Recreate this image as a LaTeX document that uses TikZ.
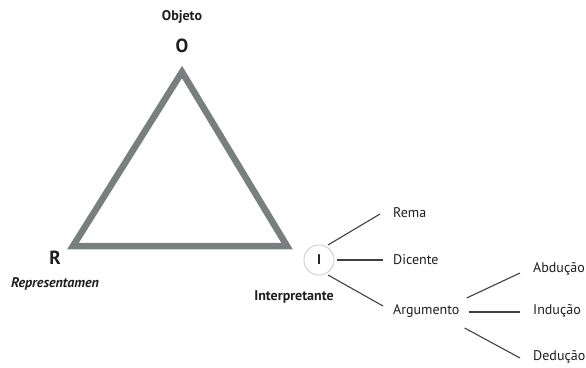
\documentclass[tikz,border=0pt]{standalone}
\usepackage{fontspec}
\setmainfont{PT Sans}
\usetikzlibrary{calc}
\definecolor{tri}{HTML}{787F7F}
\definecolor{txt}{HTML}{1E1E1E}
\definecolor{ring}{HTML}{D4D4D4}
\begin{document}
\begin{tikzpicture}[x=1pt,y=-1pt,
  lbl/.style={inner sep=0pt,text=txt,font=\fontsize{14}{16}\selectfont},
  blbl/.style={inner sep=0pt,text=txt,font=\fontsize{14}{16}\selectfont\bfseries},
  big/.style={inner sep=0pt,text=txt,font=\fontsize{19}{22}\selectfont\bfseries},
  branch/.style={draw=txt!85,line width=1.1pt},
  vert/.style={inner sep=0pt,minimum size=0pt}]
\useasboundingbox (0,0) rectangle (586,367);
% triangle vertices
\node[vert] (vo) at (182,72) {};
\node[vert] (vr) at (73,246) {};
\node[vert] (vi) at (287,246) {};
\draw[tri,line width=6.5pt,line join=miter] (vo.center) -- (vi.center) -- (vr.center) -- cycle;
% labels
\node[blbl] (objeto) at (182,17) {Objeto};
\node[big] (O) at (182,46) {O};
\node[big] (R) at (55,258) {R};
\node[blbl,font=\fontsize{14}{16}\selectfont\bfseries\itshape] (rep) at (55,284) {Representamen};
\node[circle,draw=ring,fill=white,line width=1pt,minimum size=30pt,inner sep=0pt,text=txt,font=\fontsize{14}{16}\selectfont\bfseries] (I) at (319,260) {I};
\node[blbl] (interp) at (294,297) {Interpretante};
% first level
\node[lbl,anchor=west] (rema) at (393,213) {Rema};
\node[lbl,anchor=west] (dic) at (393,260) {Dicente};
\node[lbl,anchor=west] (arg) at (393,311) {Argumento};
\draw[branch] ($(I)+(9,-15)$) -- ($(rema.west)+(-13,1)$);
\draw[branch] ($(I)+(18,0)$) -- ($(dic.west)+(-10,0)$);
\draw[branch] ($(I)+(9,15)$) -- ($(arg.west)+(-10,-5)$);
% second level
\node[lbl,anchor=west] (abd) at (533,269) {Abdução};
\node[lbl,anchor=west] (ind) at (533,311) {Indução};
\node[lbl,anchor=west] (ded) at (533,357) {Dedução};
\draw[branch] ($(arg.east)+(7,-13)$) -- ($(abd.west)+(-13,4)$);
\draw[branch] ($(arg.east)+(9,1)$) -- ($(ind.west)+(-13,1)$);
\draw[branch] ($(arg.east)+(5,17)$) -- ($(ded.west)+(-13,1)$);
\end{tikzpicture}
\end{document}
